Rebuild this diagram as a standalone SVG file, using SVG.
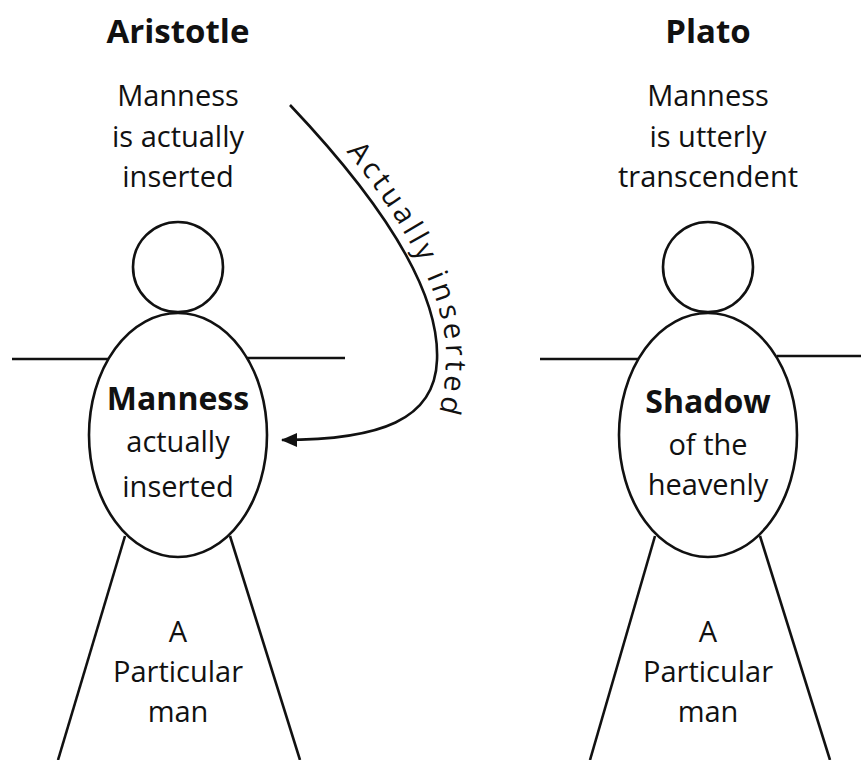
<svg xmlns="http://www.w3.org/2000/svg" width="861" height="760" viewBox="0 0 861 760">
<style>
.ln{fill:none;stroke:#111;stroke-width:2.6}
.t{font-family:"Open Sans","Liberation Sans",sans-serif;font-size:29px;fill:#111;text-anchor:middle}
.b{font-weight:bold;font-size:32px}
.h{font-family:"Open Sans","Liberation Sans",sans-serif;font-size:33px;font-weight:bold;fill:#111;text-anchor:middle}
</style>
<defs>
<marker id="ah" viewBox="0 0 16 14" refX="15" refY="7" markerWidth="16" markerHeight="14" markerUnits="userSpaceOnUse" orient="auto">
<path d="M0,0 L16,7 L0,14 z" fill="#111"/>
</marker>
<path id="tp" d="M298,98 C390,193 449,290 446,362 C445,400 438,420 426,440"/>
</defs>
<rect width="861" height="760" fill="#fff"/>

<g id="aristotle">
<text class="h" x="178" y="43">Aristotle</text>
<text class="t" x="178" y="106">Manness</text>
<text class="t" x="178" y="147">is actually</text>
<text class="t" x="178" y="187">inserted</text>
<circle class="ln" cx="178" cy="267" r="45"/>
<line class="ln" x1="12" y1="359" x2="108" y2="359"/>
<line class="ln" x1="247" y1="358" x2="345" y2="358"/>
<ellipse class="ln" cx="178" cy="435" rx="89" ry="122"/>
<line class="ln" x1="125" y1="536" x2="58" y2="760"/>
<line class="ln" x1="230" y1="536" x2="300" y2="760"/>
<text class="t b" x="178" y="410">Manness</text>
<text class="t" x="178" y="452">actually</text>
<text class="t" x="178" y="497">inserted</text>
<text class="t" x="178" y="642">A</text>
<text class="t" x="178" y="682">Particular</text>
<text class="t" x="178" y="722">man</text>
</g>

<g id="plato">
<text class="h" x="708" y="43">Plato</text>
<text class="t" x="708" y="106">Manness</text>
<text class="t" x="708" y="147">is utterly</text>
<text class="t" x="708" y="187">transcendent</text>
<circle class="ln" cx="708" cy="267" r="45"/>
<line class="ln" x1="540" y1="359" x2="638" y2="359"/>
<line class="ln" x1="777" y1="356" x2="861" y2="356"/>
<ellipse class="ln" cx="708" cy="435" rx="89" ry="122"/>
<line class="ln" x1="655" y1="536" x2="590" y2="760"/>
<line class="ln" x1="760" y1="536" x2="830" y2="760"/>
<text class="t b" x="708" y="413">Shadow</text>
<text class="t" x="708" y="455">of the</text>
<text class="t" x="708" y="495">heavenly</text>
<text class="t" x="708" y="642">A</text>
<text class="t" x="708" y="682">Particular</text>
<text class="t" x="708" y="722">man</text>
</g>

<g id="connectors">
<path class="ln" d="M290,105 C380,200 440,290 437,360 C435,420 380,440 282,440" marker-end="url(#ah)"/>
<text class="t" style="text-anchor:start"><textPath href="#tp" startOffset="72" textLength="288" lengthAdjust="spacing">Actually inserted</textPath></text>
</g>
</svg>
